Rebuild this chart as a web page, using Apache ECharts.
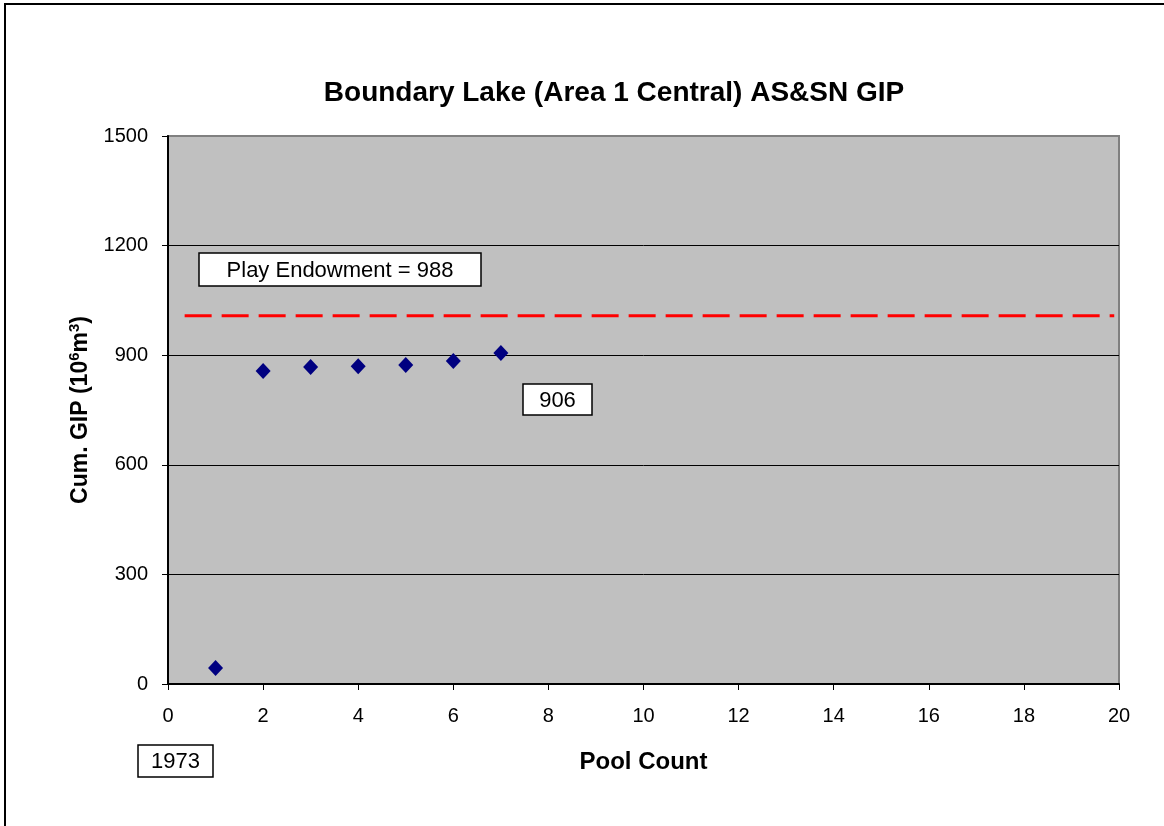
<!DOCTYPE html>
<html>
<head>
<meta charset="utf-8">
<script src="https://cdn.jsdelivr.net/npm/echarts@6/dist/echarts.min.js"></script>
</head>
<body style="margin:0;background:#fff">
<div id="main" style="width:1164px;height:826px"></div>
<script>
// pool count vs cumulative GIP
var poolCount = [1, 2, 3, 4, 5, 6, 7];
var cumGip = [44, 857, 868, 870, 873, 884, 906];
// dashed endowment line as drawn
var endowX = [0.35, 19.9];
var endowY = 1008;
var yTicks = [0, 300, 600, 900, 1200, 1500];

var chart = echarts.init(document.getElementById('main'));
var font = '"Liberation Sans", Arial, sans-serif';

function box(x, y, w, h, label) {
  return {
    type: 'group',
    z: 100,
    children: [
      { type: 'rect', shape: { x: x, y: y, width: w, height: h },
        style: { fill: '#fff', stroke: '#000', lineWidth: 1.5 } },
      { type: 'text', x: x + w / 2, y: y + h / 2 + 1,
        style: { text: label, fill: '#000', font: '22px ' + font, align: 'center', verticalAlign: 'middle' } }
    ]
  };
}

chart.setOption({
  animation: false,
  title: {
    text: 'Boundary Lake (Area 1 Central) AS&SN GIP',
    left: 609, top: 74, textAlign: 'center',
    textStyle: { fontFamily: font, fontSize: 28, fontWeight: 'bold', color: '#000' }
  },
  grid: {
    left: 168, top: 136, right: 45, bottom: 142,
    show: true, backgroundColor: '#c0c0c0', borderColor: '#808080', borderWidth: 2
  },
  xAxis: {
    type: 'value', min: 0, max: 20, interval: 2,
    axisLine: { onZero: false, lineStyle: { color: '#000', width: 2 } },
    axisTick: { show: true, length: 6, lineStyle: { color: '#000' } },
    axisLabel: { fontFamily: font, fontSize: 20, color: '#000', margin: 22 },
    splitLine: { show: false },
    name: 'Pool Count', nameLocation: 'middle', nameGap: 66,
    nameTextStyle: { fontFamily: font, fontSize: 24, fontWeight: 'bold', color: '#000' }
  },
  yAxis: {
    type: 'value', min: yTicks[0], max: yTicks[yTicks.length - 1], interval: 300,
    axisLine: { show: true, onZero: false, lineStyle: { color: '#000', width: 2 } },
    axisTick: { show: true, length: 6, lineStyle: { color: '#000' } },
    axisLabel: { fontFamily: font, fontSize: 20, color: '#000', margin: 20,
      formatter: function (v) { return String(v); } },
    splitLine: { show: true, showMaxLine: false, lineStyle: { color: '#000', width: 1 } },
    name: '{b|Cum. GIP (10}{s|6}{b|m}{s|3}{b|)}', nameLocation: 'middle', nameGap: 68, nameRotate: 90,
    nameTextStyle: {
      rich: {
        b: { fontFamily: font, fontSize: 23, fontWeight: 'bold', color: '#000' },
        s: { fontFamily: font, fontSize: 15, fontWeight: 'bold', color: '#000', verticalAlign: 'top', padding: [0, 0, 12, 0] }
      }
    }
  },
  series: [
    {
      type: 'line',
      data: endowX.map(function (x) { return [x, endowY]; }),
      symbol: 'none',
      lineStyle: { color: '#ff0000', width: 3, type: [27, 10] },
      z: 3
    },
    {
      type: 'scatter',
      data: poolCount.map(function (p, i) { return [p, cumGip[i]]; }),
      symbol: 'diamond', symbolSize: [15, 16],
      itemStyle: { color: '#000080', opacity: 1 },
      z: 4
    }
  ],
  graphic: [
    { type: 'polyline', shape: { points: [[5, 830], [5, 4], [1170, 4]] },
      style: { stroke: '#000', lineWidth: 2, fill: null } },
    box(199, 253, 282, 33, 'Play Endowment = 988'),
    box(523, 384, 69, 31, '906'),
    box(138, 745, 75, 32, '1973')
  ]
});
</script>
</body>
</html>
